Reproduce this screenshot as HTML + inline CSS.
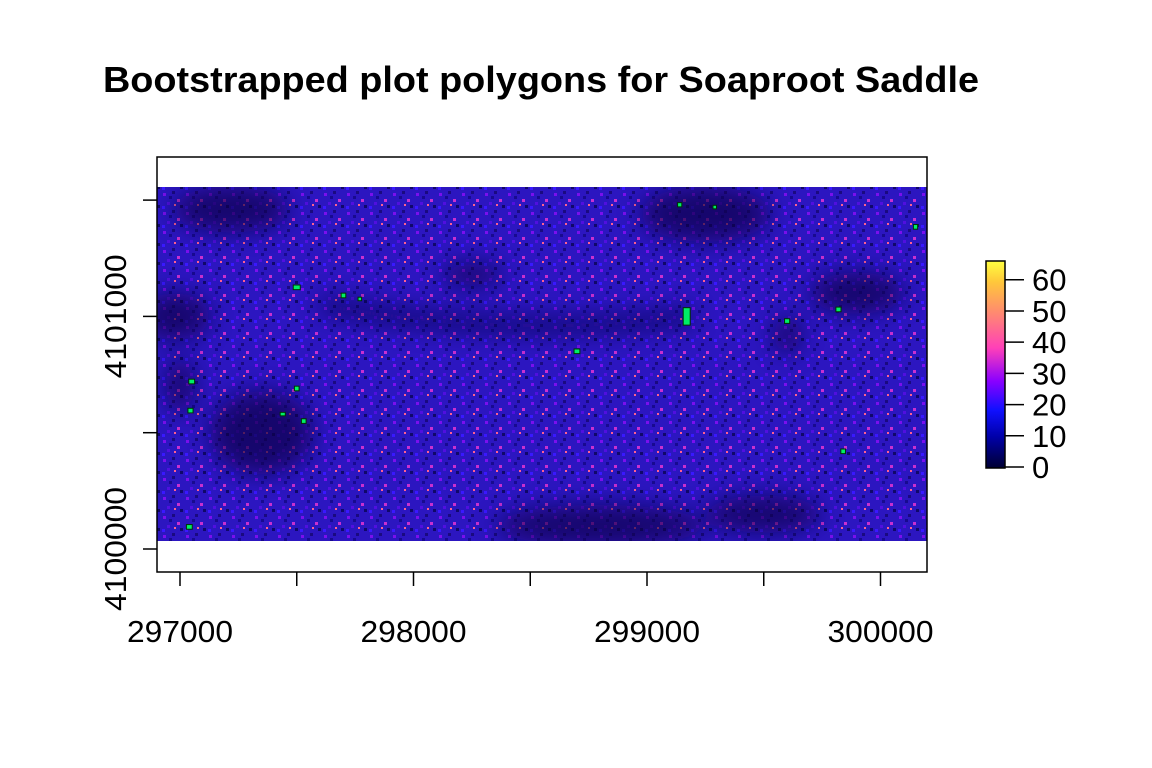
<!DOCTYPE html>
<html><head><meta charset="utf-8"><style>
html,body{margin:0;padding:0;background:#fff;}
svg{display:block;font-family:"Liberation Sans",Arial,sans-serif;}
</style></head><body>
<svg id="chart" width="1152" height="768" viewBox="0 0 1152 768">
<defs>
<linearGradient id="cbar" x1="0" y1="1" x2="0" y2="0">
<stop offset="0" stop-color="#000033"/>
<stop offset="0.15" stop-color="#0000a8"/>
<stop offset="0.28" stop-color="#1010ff"/>
<stop offset="0.42" stop-color="#8a00ff"/>
<stop offset="0.58" stop-color="#ff40b8"/>
<stop offset="0.75" stop-color="#ff8a70"/>
<stop offset="0.9" stop-color="#ffc83a"/>
<stop offset="1" stop-color="#ffff40"/>
</linearGradient>
<pattern id="speck" width="23" height="19" patternUnits="userSpaceOnUse">
<rect width="23" height="19" fill="#2c16c0"/>
<rect x="2" y="3" width="3" height="3" fill="#7a10ee"/>
<rect x="11" y="1" width="3" height="3" fill="#1a0a80"/>
<rect x="16" y="9" width="3" height="3" fill="#c830d0"/>
<rect x="6" y="12" width="3" height="3" fill="#5010e0"/>
<rect x="19" y="15" width="3" height="3" fill="#10086a"/>
<rect x="1" y="16" width="3" height="3" fill="#3a18ff"/>
<rect x="13" y="14" width="2" height="2" fill="#ff6090"/>
<rect x="8" y="6" width="3" height="3" fill="#180a90"/>
</pattern>
<filter id="blur"><feGaussianBlur stdDeviation="12"/></filter>
<clipPath id="rclip"><rect x="157" y="187" width="770" height="354"/></clipPath>
</defs>
<text x="541" y="92" text-anchor="middle" font-size="36" font-weight="bold" textLength="876" lengthAdjust="spacingAndGlyphs">Bootstrapped plot polygons for Soaproot Saddle</text>
<g clip-path="url(#rclip)">
<rect x="157" y="187" width="770" height="354" fill="url(#speck)"/>
<g filter="url(#blur)" fill="#08064a" opacity="0.7" id="dark"></g>
</g>
<g id="plots"></g>
<rect x="157" y="157" width="770" height="415" fill="none" stroke="#000" stroke-width="1.5"/>
<g id="axes"></g>
<rect x="986" y="261" width="19" height="207" fill="url(#cbar)" stroke="#000" stroke-width="1.5"/>
<g id="legend"></g>
</svg>
<script>
const xTicks=[297000,297500,298000,298500,299000,299500,300000];
const xLabels=[297000,298000,299000,300000];
const yTicks=[4100000,4100500,4101000,4101500];
const yLabels=[4100000,4101000];
const legendTicks=[0,10,20,30,40,50,60];
const plotX=[297500,297700,297770,299140,299290,300150,299170,299600,299820,298700,297050,297500,297045,297440,297530,299840,297040];
const plotY=[4101125,4101090,4101075,4101480,4101470,4101385,4101000,4100980,4101030,4100850,4100720,4100690,4100595,4100580,4100550,4100420,4100095];
const plotW=[30,20,15,18,15,18,30,22,22,25,25,20,22,22,20,20,25];
const plotH=[20,20,15,18,15,20,75,20,20,20,20,20,20,15,20,20,20];
const darkX=[297220,296980,297350,298250,299250,299900,298800,299500,297000,299600];
const darkY=[4101460,4101000,4100500,4101180,4101440,4101100,4100100,4100150,4100700,4100920];
const darkRX=[250,150,220,130,280,200,450,250,60,60];
const darkRY=[100,100,180,50,120,90,90,80,120,80];
const legMin=0, legMax=66;
const X=v=>180+(v-297000)*0.2335;
const Y=v=>549-(v-4100000)*0.2326;
const L=v=>467-(v-legMin)/(legMax-legMin)*206;
const NS='http://www.w3.org/2000/svg';
function mk(t,a,p){const e=document.createElementNS(NS,t);for(const k in a)e.setAttribute(k,a[k]);p.appendChild(e);return e;}
const dark=document.getElementById('dark');
darkX.forEach((v,i)=>{const e=mk('ellipse',{cx:X(v),cy:Y(darkY[i]),rx:darkRX[i]*0.2335,ry:darkRY[i]*0.2326},dark);

});
const band=mk('path',{d:`M${X(297600)},${Y(4101050)} Q${X(298400)},${Y(4100900)} ${X(299200)},${Y(4101000)}`,stroke:'#08064a','stroke-width':16,fill:'none'},dark);


const plots=document.getElementById('plots');
plotX.forEach((v,i)=>{const w=plotW[i]*0.2335,h=plotH[i]*0.2326;
const r=mk('rect',{x:X(v)-w/2,y:Y(plotY[i])-h/2,width:w,height:h,fill:'#00ee66',stroke:'#003300','stroke-width':1},plots);

});
const ax=document.getElementById('axes');
xTicks.forEach(v=>{const l=mk('line',{x1:X(v),x2:X(v),y1:572,y2:586,stroke:'#000','stroke-width':1.5},ax);

});
xLabels.forEach(v=>{const t=mk('text',{x:X(v),y:642,'text-anchor':'middle','font-size':31,textLength:106,lengthAdjust:'spacingAndGlyphs'},ax);t.textContent=v;

});
yTicks.forEach(v=>{const l=mk('line',{x1:143,x2:157,y1:Y(v),y2:Y(v),stroke:'#000','stroke-width':1.5},ax);

});
yLabels.forEach(v=>{const t=mk('text',{x:0,y:0,'text-anchor':'middle','font-size':31,textLength:124,lengthAdjust:'spacingAndGlyphs',transform:`translate(126,${Y(v)}) rotate(-90)`},ax);t.textContent=v;

});
const lg=document.getElementById('legend');
legendTicks.forEach(v=>{const l=mk('line',{x1:1005,x2:1024,y1:L(v),y2:L(v),stroke:'#000','stroke-width':1.5},lg);


const t=mk('text',{x:1032,y:L(v)+11,'font-size':31},lg);t.textContent=v;

});
</script>
</body></html>
